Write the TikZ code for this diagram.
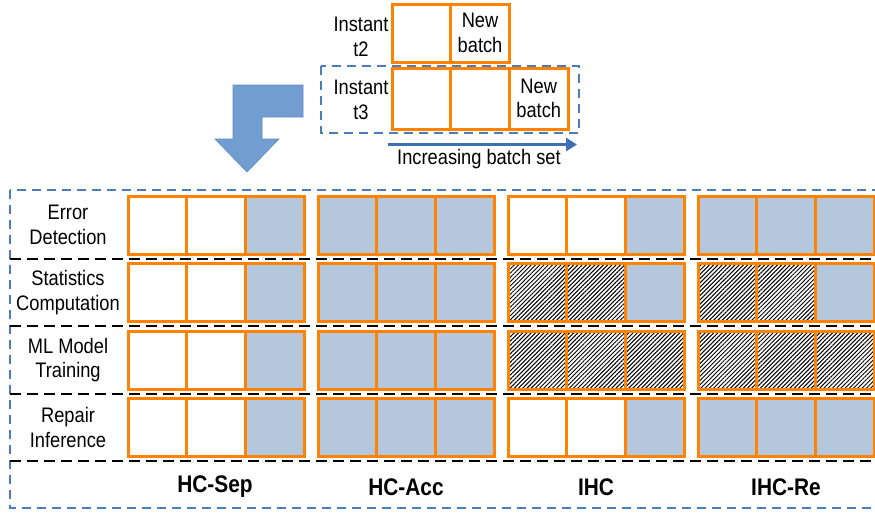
\documentclass[tikz,border=0pt]{standalone}
\usepackage{fontspec}
\setmainfont{Liberation Sans}[FakeStretch=0.87]
\usetikzlibrary{patterns.meta,arrows.meta}

\definecolor{cellorange}{RGB}{255,130,0}
\definecolor{cellblue}{RGB}{180,199,221}
\definecolor{frameblue}{RGB}{74,126,187}
\definecolor{incblue}{RGB}{62,110,180}
\definecolor{bentblue}{RGB}{114,157,208}

\tikzset{
	cell/.style={draw=cellorange, line width=3pt, minimum width=58.7pt,
		minimum height=58pt, inner sep=0pt, outer sep=0pt, anchor=north west, align=center},
	cw/.style={cell, fill=white},
	cb/.style={cell, fill=cellblue},
	ch/.style={cell, pattern={Lines[angle=45,distance=3pt,line width=1pt]}},
	rowlabel/.style={align=center, inner sep=0pt},
	methodlabel/.style={font=\fontsize{24}{28}\selectfont\bfseries, inner sep=0pt},
	blueframe/.style={draw=frameblue, line width=1.5pt, dash pattern=on 9pt off 6pt},
	sepline/.style={draw=black, line width=2pt, dash pattern=on 11pt off 6pt},
}

\begin{document}
\begin{tikzpicture}[x=1pt, y=-1pt, font=\fontsize{21}{24.5}\selectfont]

	\useasboundingbox (0,0) rectangle (875,512);
	\clip (0,0) rectangle (875,512);

	% batches at instants t2 and t3
	\node[rowlabel] (inst2) at (361,37) {Instant\\t2};
	\node[cw] (t2a) at (392,4) {};
	\node[cw] (t2b) at (t2a.north east) {New\\batch};
	\draw[blueframe] (321,66) rectangle (579,133);
	\node[rowlabel] (inst3) at (361,100) {Instant\\t3};
	\node[cw, minimum height=61pt] (t3a) at (392,68) {};
	\node[cw, minimum height=61pt] (t3b) at (t3a.north east) {};
	\node[cw, minimum height=61pt] (t3c) at (t3b.north east) {New\\batch};

	\coordinate (incs) at (388,144.5);
	\coordinate (ince) at (577,144.5);
	\draw[draw=incblue, line width=3pt, -{Triangle[length=11pt,width=13pt]}] (incs) -- (ince);
	\node (inclab) at (479,159.5) {Increasing batch set};

	% bent arrow
	\filldraw[fill=bentblue, draw=frameblue!90, line width=0.6pt]
		(233,85) -- (303,85) -- (303,117) -- (262,117) -- (262,139) -- (279,139)
		-- (247,172) -- (215,139) -- (233,139) -- cycle;

	% main frame and row separators
	\draw[blueframe] (10,190) rectangle (900,508);
	\foreach \y in {259,326,394,461}
		\draw[sepline] (10,\y) -- (880,\y);

	\node[rowlabel] (lab1) at (68,225) {Error\\Detection};
	\node[rowlabel] (lab2) at (68,292.5) {Statistics\\Computation};
	\node[rowlabel] (lab3) at (68,360) {ML Model\\Training};
	\node[rowlabel] (lab4) at (68,427.5) {Repair\\Inference};

	% cells: row / method / three batches
	\foreach \r/\g/\sa/\sb/\sc in {
		1/1/cw/cw/cb, 1/2/cb/cb/cb, 1/3/cw/cw/cb, 1/4/cb/cb/cb,
		2/1/cw/cw/cb, 2/2/cb/cb/cb, 2/3/ch/ch/cb, 2/4/ch/ch/cb,
		3/1/cw/cw/cb, 3/2/cb/cb/cb, 3/3/ch/ch/ch, 3/4/ch/ch/ch,
		4/1/cw/cw/cb, 4/2/cb/cb/cb, 4/3/cw/cw/cb, 4/4/cb/cb/cb} {
		\node[\sa] (c\r\g a) at ({128+190*(\g-1)},{196+67.5*(\r-1)}) {};
		\node[\sb] (c\r\g b) at (c\r\g a.north east) {};
		\node[\sc] (c\r\g c) at (c\r\g b.north east) {};
	}

	\node[methodlabel] (hcsep) at (215,487) {HC-Sep};
	\node[methodlabel] (hcacc) at (406,487) {HC-Acc};
	\node[methodlabel] (ihc) at (596,487) {IHC};
	\node[methodlabel] (ihcre) at (786,487) {IHC-Re};

\end{tikzpicture}
\end{document}
